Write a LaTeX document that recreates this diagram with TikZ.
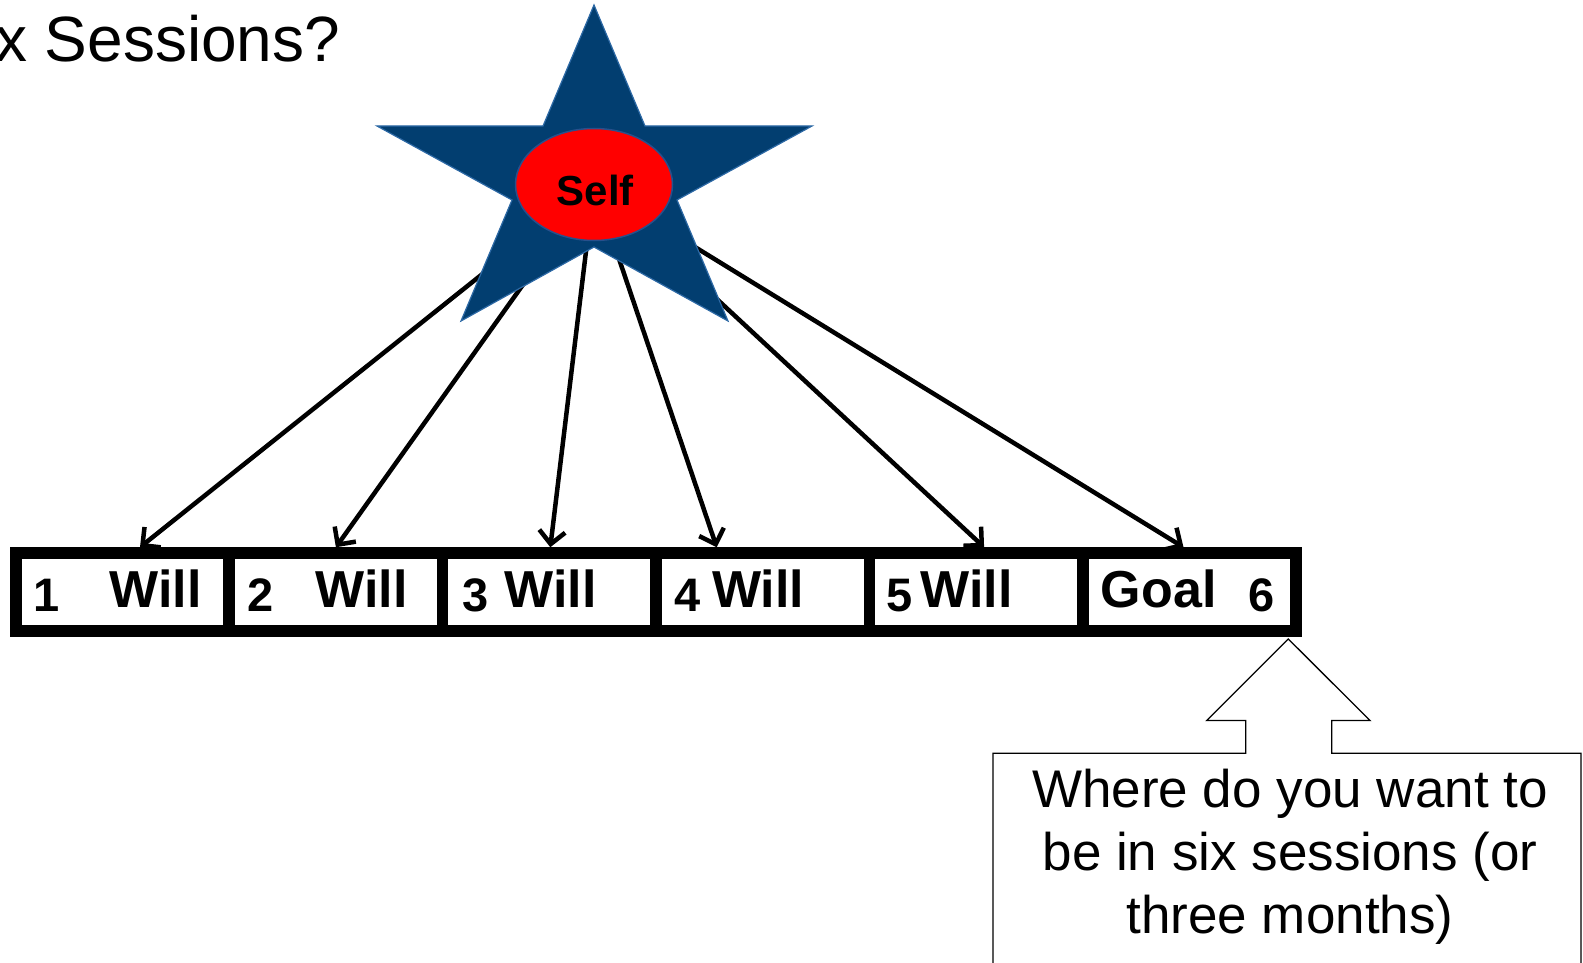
\documentclass[tikz,border=0pt]{standalone}
\usepackage{fontspec}
\setmainfont{Liberation Sans}
\usetikzlibrary{arrows.meta,shapes.geometric,calc}
\definecolor{starnavy}{RGB}{2,62,112}
\definecolor{staredge}{RGB}{45,105,165}
\definecolor{selfred}{RGB}{255,0,0}
\definecolor{selfedge}{RGB}{40,80,140}

\begin{document}
\begin{tikzpicture}[x=1pt,y=-1pt,
  stepbox/.style={draw=black, line width=11.5pt, rectangle,
    minimum width=213.4pt, minimum height=78pt, inner sep=0pt},
  numtxt/.style={font=\bfseries\fontsize{47}{47}\selectfont, inner sep=0pt, anchor=base west},
  wordtxt/.style={font=\bfseries\fontsize{52}{52}\selectfont, inner sep=0pt, anchor=base west},
  link/.style={draw=black, line width=4.5pt,
    -{Straight Barb[length=13pt,width=26pt,line width=4.5pt]}},
  starshape/.style={fill=starnavy, draw=staredge, line width=1.2pt, line join=miter},
  selfoval/.style={ellipse, fill=selfred, draw=selfedge, line width=1.5pt,
    minimum width=157pt, minimum height=112pt, inner sep=0pt},
  selftxt/.style={font=\bfseries\fontsize{42}{42}\selectfont, inner sep=0pt, anchor=base},
  callout/.style={fill=white, draw=black, line width=1.3pt, line join=miter},
  calltxt/.style={font=\fontsize{53}{63}\selectfont, inner sep=0pt, anchor=base},
  titletxt/.style={font=\fontsize{64}{64}\selectfont, inner sep=0pt, anchor=base west}
]
\useasboundingbox (0,0) rectangle (1583,963);
\clip (0,0) rectangle (1583,963);

% heading, partly cut at the left margin
\node[titletxt] (title) at (-5,61.7) {x Sessions?};

% the six sessions
\foreach \i in {1,...,6}{
  \node[stepbox] (b\i) at ({15.8+213.4*(\i-0.5)},592) {};
}

\node[numtxt] (n1) at (33.5,611) {1};
\node[wordtxt] (w1) at (109.5,607) {Will};
\node[numtxt] (n2) at (247.5,611) {2};
\node[wordtxt] (w2) at (315.5,607) {Will};
\node[numtxt] (n3) at (461.8,611) {3};
\node[wordtxt] (w3) at (504.5,607) {Will};
\node[numtxt] (n4) at (674,611) {4};
\node[wordtxt] (w4) at (712,607) {Will};
\node[numtxt] (n5) at (886,611) {5};
\node[wordtxt] (w5) at (920.5,607) {Will};
\node[wordtxt] (w6) at (1100.7,607) {Goal};
\node[numtxt] (n6) at (1248.7,611) {6};

% centre of the star, where every arrow starts
\coordinate (hub) at (594,185);

% arrows from the self to each session
\draw[link] (hub) -- ($(b1.north)+(17.5,0)$);
\draw[link] (hub) -- ($(b2.north)+(0,0)$);
\draw[link] (hub) -- ($(b3.north)+(1,0)$);
\draw[link] (hub) -- ($(b4.north)+(-46,0)$);
\draw[link] (hub) -- ($(b5.north)+(8,0)$);
\draw[link] (hub) -- ($(b6.north)+(-6,0)$);

% the star
\draw[starshape] (594,5) -- (645,126) -- (812,126) -- (677,200) -- (728,321)
  -- (594,247) -- (461,321) -- (512,200) -- (377,126) -- (543,126) -- cycle;

% the self oval
\node[selfoval] (self) at (594,184.5) {};
\node[selftxt] (selflabel) at (595.3,205) {Self};

% up-arrow callout under the goal
\draw[callout] (993,990) -- (993,753.3) -- (1245.7,753.3) -- (1245.7,720.5)
  -- (1206.7,720.5) -- (1288.3,639) -- (1370,720.5) -- (1331.7,720.5)
  -- (1331.7,753.3) -- (1581,753.3) -- (1581,990);
\node[calltxt] (q1) at (1290,807) {Where do you want to};
\node[calltxt] (q2) at (1290,870) {be in six sessions (or};
\node[calltxt] (q3) at (1290,933) {three months)};
\end{tikzpicture}
\end{document}
